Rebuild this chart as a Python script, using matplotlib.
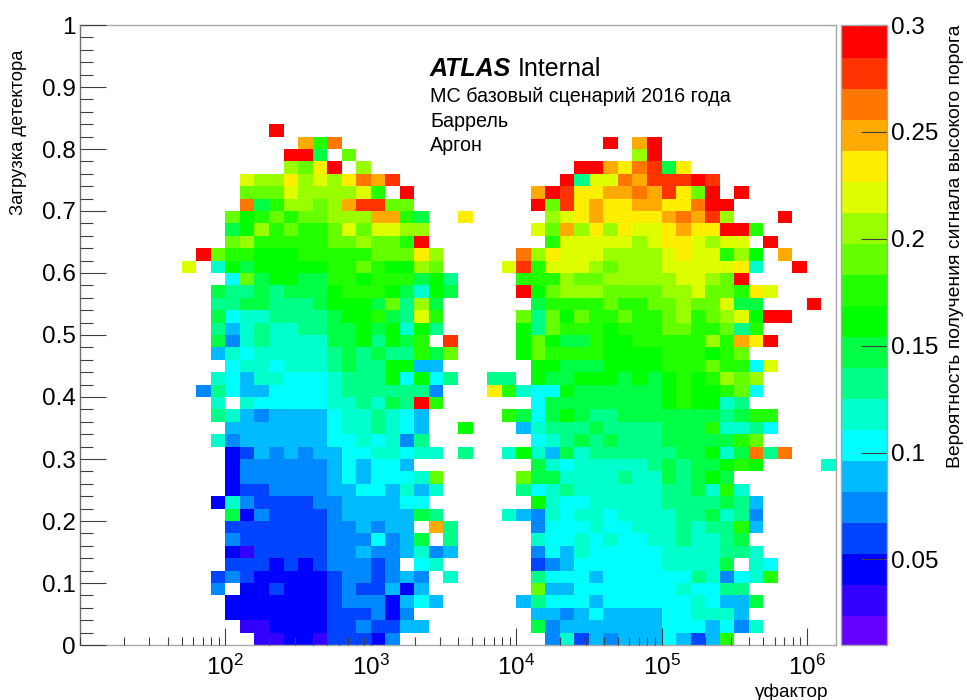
import numpy as np
import matplotlib
matplotlib.use('Agg')
import matplotlib.pyplot as plt
from matplotlib.colors import ListedColormap, BoundaryNorm
from matplotlib.ticker import MultipleLocator, FixedLocator, FixedFormatter, NullFormatter

plt.rcParams['font.family'] = ['Liberation Sans', 'DejaVu Sans']
plt.rcParams['mathtext.default'] = 'regular'

# colour levels of the palette, bottom to top of the colour bar
level_colors = ['#6600FF', '#3300FF', '#0000FF', '#0044FF', '#0088FF',
                '#00BBFF', '#00FFFF', '#00FFCC', '#00FF88', '#00FF44',
                '#00FF00', '#22FF00', '#66FF00', '#99FF00', '#DDFF00',
                '#FFEE00', '#FFAA00', '#FF7700', '#FF3300', '#FF0000']
level_codes = 'abcdefghijklmnopqrst'

z_min = 0.01
z_max = 0.3

# one string per occupancy bin, row 41 first, row 0 last
# letter = colour level, dot = empty bin
# left lobe covers gamma bins 7..27
left_lobe = [
    '......t..............',
    '........qlr..........',
    '.......ttj.m.........',
    '.......nmpt.n........',
    '....onnpnonprqs......',
    '....mmmonnnnol.t.....',
    '....rjlnnmnqssmm.....',
    '...mklmlmmnnnqqlj..p.',
    '...jknlmllmomoonn....',
    '...mnlllllmmnmmlt....',
    '.tmllkkklllllmmmpn...',
    'o.hkjkkkkkllmlkknm...',
    '...gmjkkjjllkllljki..',
    '..jiijijjjklllkjhkj..',
    '..iijjiiijkkkjminj...',
    '..jghhiiiijkkljiol...',
    '..ifhihhiijjkjkhki...',
    '..jehihhhhjjkikjl.s..',
    '..fhghhhhhijijiiljm..',
    '...ghhghhhijiikkff...',
    '..hgfhhggghiiikgkgi..',
    '.eigffgggghiiiiiie...',
    '..h.hggggghhihjitl...',
    '..ihfeffffghhihgf....',
    '...fffffffghhihgf..k.',
    '..heffffffgghghei....',
    '...cdfefeffgghhghh.i.',
    '...ceeeeeefgfggf.....',
    '...ceeeeeefgfggghm...',
    '...cddeeeeffggfhfh...',
    '..cheddddeeffffgg....',
    '...jceddddefffffji...',
    '...dddddddeefeff.qi..',
    '...eddddddeeegefj.i..',
    '...cbdddddeefeefhef..',
    '...dddcdcdeeede.gh...',
    '..dedcccccdeedefe.h..',
    '..e.ccdcccdeddfcf....',
    '...cccccccdeeecfgf...',
    '...cccccccdddece.....',
    '....bbccccddeddff....',
    '.....bbccbdddce......',
]

# right lobe covers gamma bins 28..51
right_lobe = [
    '........................',
    '........t.qt............',
    '..........nt............',
    '......ttqprsjp..........',
    '.....tioorqsssts........',
    '...qtsppqqrqspmt.t......',
    '...tmspqppqqpprtt.......',
    '....nopqppppqrqsn...t...',
    '...omqnpnpoopqppttl.....',
    '....looooonopponoo.t....',
    '..rnpooonnnnopoolnk.q...',
    '.oslooonmnnnoooooph..t..',
    '..lllnmmnnnnnoonmt......',
    '..tkmnnnmmmmnnommlpo....',
    '...jllllmllmmnmmojj...t.',
    '..mimkmllmllmnlmnoktt...',
    '..kimlllklllmmllmil.....',
    '..kmkjjlkklllllnlqpt....',
    '..kmllllkkkklllklm......',
    '...kkjjjkkkklllmllgo....',
    'ii.kjjkkkjkjklklnmn.....',
    'plhggkjjjjjjklkklmg.....',
    '...gjjjjjjjjklkkhi......',
    '.ljgjkjiijjjjjjjijll....',
    '..fhiiijiiiijjjlhhig....',
    '...ghijijiiijjjjjlm.....',
    '.hkhfjhiiiiiijjkhjrir...',
    '...jhghhhhhijijjklk....h',
    '..mjjhhhhihhjijkj.......',
    '..ighihhhhhhiijhlh......',
    '...khgghhhhhiiiijif.....',
    '.hfehghhghhhhiijhie.....',
    '...eggghgghhhihiilf.....',
    '...hgghghgghhihhij......',
    '...egfhggggghhhhiih.....',
    '...defgggggghhhhj.hg....',
    '...igggfggggggiheghl....',
    '...mffggggggghggii......',
    '..figggfgggggghgffj.....',
    '...ffefgffffgghhhf......',
    '...jefffffffgggfgeh.....',
    '....ehdfefffgfdfl.......',
]

y_ticks = [0, 0.1, 0.2, 0.3, 0.4, 0.5, 0.6, 0.7, 0.8, 0.9, 1]
y_tick_labels = ['0', '0.1', '0.2', '0.3', '0.4', '0.5', '0.6', '0.7', '0.8', '0.9', '1']
x_ticks = [1e2, 1e3, 1e4, 1e5, 1e6]
x_tick_labels = ['$10^{2}$', '$10^{3}$', '$10^{4}$', '$10^{5}$', '$10^{6}$']
z_ticks = [0.05, 0.1, 0.15, 0.2, 0.25, 0.3]
z_tick_labels = ['0.05', '0.1', '0.15', '0.2', '0.25', '0.3']

W, H = 967, 700
frame_color = '#a8a8a8'
tick_color = '#404040'


def px_rect(x0, y0, x1, y1):
    # pixel box (y from the top) to figure fractions
    return [x0 / W, 1 - y1 / H, (x1 - x0) / W, (y1 - y0) / H]


def fill_lobe(grid, rows, first_col, top_row):
    for i, row in enumerate(rows):
        for j, code in enumerate(row):
            if code != '.':
                level = level_codes.index(code)
                grid[top_row - i, first_col + j] = z_min + (level + 0.5) * step


n_x, n_y = 52, 50
step = (z_max - z_min) / len(level_colors)
grid = np.full((n_y, n_x), np.nan)
fill_lobe(grid, left_lobe, 7, 41)
fill_lobe(grid, right_lobe, 28, 41)

x_edges = 10 ** (1 + 0.1 * np.arange(n_x + 1))
y_edges = np.linspace(0, 1, n_y + 1)

fig = plt.figure(figsize=(W / 100, H / 100), dpi=100)
ax = fig.add_axes(px_rect(80, 25, 836, 645))
cax = fig.add_axes(px_rect(841, 25, 887, 645))

cmap = ListedColormap(level_colors)
norm = BoundaryNorm(np.linspace(z_min, z_max, len(level_colors) + 1), cmap.N)
mesh = ax.pcolormesh(x_edges, y_edges, np.ma.masked_invalid(grid), cmap=cmap, norm=norm,
                     edgecolors='none', antialiased=False)

ax.set_xscale('log')
ax.set_xlim(x_edges[0], x_edges[-1])
ax.set_ylim(0, 1)
ax.set_axisbelow(False)

ax.xaxis.set_major_locator(FixedLocator(x_ticks))
ax.xaxis.set_major_formatter(FixedFormatter(x_tick_labels))
ax.xaxis.set_minor_locator(FixedLocator([m * 10.0 ** d for d in range(1, 7) for m in range(2, 10)
                                         if m * 10.0 ** d < x_edges[-1]] + [10]))
ax.xaxis.set_minor_formatter(NullFormatter())
ax.yaxis.set_major_locator(FixedLocator(y_ticks))
ax.yaxis.set_major_formatter(FixedFormatter(y_tick_labels))
ax.yaxis.set_minor_locator(MultipleLocator(0.02))

ax.tick_params(axis='x', which='major', direction='in', length=12, width=0.8, color=tick_color,
               labelsize=17.5, pad=7)
ax.tick_params(axis='x', which='minor', direction='in', length=6, width=0.8, color=tick_color)
ax.tick_params(axis='y', which='major', direction='in', length=19, width=0.8, color=tick_color,
               labelsize=17.5, pad=3)
ax.tick_params(axis='y', which='minor', direction='in', length=9.5, width=0.8, color=tick_color)

for side in ['top', 'right', 'bottom']:
    ax.spines[side].set_color(frame_color)
    ax.spines[side].set_linewidth(1.0)
ax.spines['left'].set_color('#707070')
ax.spines['left'].set_linewidth(1.0)

cb = fig.colorbar(mesh, cax=cax, ticks=z_ticks, spacing='proportional')
cb.set_ticklabels(z_tick_labels)
cb.minorticks_off()
cb.outline.set_edgecolor(frame_color)
cb.outline.set_linewidth(1.0)
cax.tick_params(which='major', direction='in', length=19, width=0.8, color=tick_color,
                labelsize=17.5, pad=3)
cb.solids.set_edgecolor('face')

fig.text(430 / W, 1 - 76 / H, 'ATLAS', fontsize=18, fontweight='bold', fontstyle='italic')
fig.text(518 / W, 1 - 76 / H, 'Internal', fontsize=18)
fig.text(430 / W, 1 - 102 / H, 'МС базовый сценарий 2016 года', fontsize=14.2)
fig.text(430 / W, 1 - 127 / H, 'Баррель', fontsize=14.2)
fig.text(430 / W, 1 - 151 / H, 'Аргон', fontsize=14.2)

fig.text(19 / W, 1 - 50 / H, 'Загрузка детектора', fontsize=13.2, rotation=90,
         ha='center', va='top')
fig.text(956 / W, 1 - 25 / H, 'Вероятность получения сигнала высокого порога', fontsize=13.85,
         rotation=90, ha='center', va='top')
fig.text(828 / W, 1 - 697 / H, 'γфактор', fontsize=13.7, ha='right', va='baseline')

fig.savefig('out.png', dpi=100)
